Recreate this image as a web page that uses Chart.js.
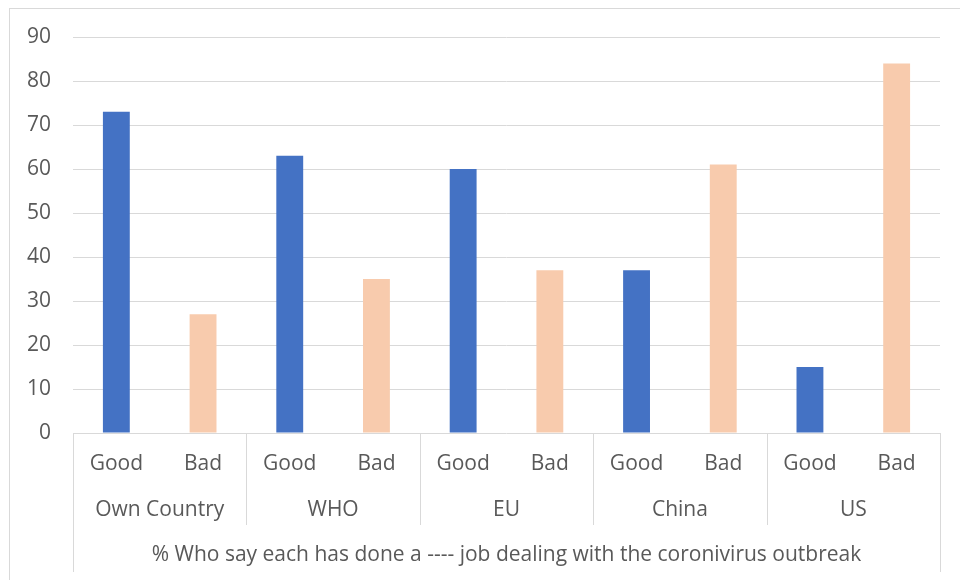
<!DOCTYPE html>
<html>
<head>
<meta charset="utf-8">
<script src="https://cdn.jsdelivr.net/npm/chart.js@4.4.1/dist/chart.umd.min.js"></script>
<style>
  html, body { margin: 0; padding: 0; background: #fff; }
  #wrap { position: relative; width: 960px; height: 580px; overflow: hidden; }
  #frame { position: absolute; left: 9px; top: 8px; width: 1000px; height: 620px; border: 1px solid #d9d9d9; box-sizing: border-box; }
  canvas { position: absolute; left: 0; top: 0; }
</style>
</head>
<body>
<div id="wrap">
  <div id="frame"></div>
  <canvas id="chart" width="960" height="580"></canvas>
</div>
<script>
const groups = ['Own Country', 'WHO', 'EU', 'China', 'US'];
const answers = ['Good', 'Bad'];
const values = [73, 27, 63, 35, 60, 37, 37, 61, 15, 84];
const yTicks = [0, 10, 20, 30, 40, 50, 60, 70, 80, 90];
const axisTitle = '% Who say each has done a ---- job dealing with the coronivirus outbreak';

const answerColors = { Good: '#4472c4', Bad: '#f8cbad' };
const textColor = '#595959';
const lineColor = '#d9d9d9';
const fontFamily = '"Open Sans", Lato, sans-serif';
const fontSize = 21;

// one label per bar: Good, Bad, Good, Bad ...
const labels = [];
groups.forEach(() => answers.forEach(a => labels.push(a)));

// group separators + group names + bottom title
const multiLevelAxis = {
  id: 'multiLevelAxis',
  afterDraw(chart) {
    const c = chart.ctx;
    const x = chart.scales.x;
    const area = chart.chartArea;
    const per = answers.length;
    const step = (area.right - area.left) / groups.length;
    c.save();
    c.strokeStyle = lineColor;
    c.lineWidth = 1;
    for (let k = 0; k <= groups.length; k++) {
      const px = Math.round(area.left + k * step) + 0.5;
      const end = (k === 0 || k === groups.length) ? 572 : 525;
      c.beginPath();
      c.moveTo(px, area.bottom);
      c.lineTo(px, end);
      c.stroke();
    }
    c.fillStyle = textColor;
    c.font = fontSize + 'px ' + fontFamily;
    c.textAlign = 'center';
    c.textBaseline = 'middle';
    groups.forEach((g, i) => {
      const a = x.getPixelForValue(i * per);
      const b = x.getPixelForValue(i * per + per - 1);
      c.fillText(g, (a + b) / 2, 510);
    });
    c.fillText(axisTitle, (area.left + area.right) / 2, 555);
    c.restore();
  }
};

new Chart(document.getElementById('chart'), {
  type: 'bar',
  data: {
    labels: labels,
    datasets: [{
      data: values,
      backgroundColor: labels.map(l => answerColors[l]),
      barPercentage: 0.31,
      categoryPercentage: 1
    }]
  },
  options: {
    responsive: false,
    animation: false,
    layout: { padding: { left: 9, right: 20, top: 37, bottom: 0 } },
    plugins: { legend: { display: false }, tooltip: { enabled: false } },
    scales: {
      x: {
        grid: { display: false },
        border: { display: false },
        ticks: { color: textColor, font: { family: fontFamily, size: fontSize }, padding: 10, maxRotation: 0, autoSkip: false },
        afterFit: s => { s.height = 147; }
      },
      y: {
        min: 0,
        max: 90,
        afterBuildTicks: s => { s.ticks = yTicks.map(v => ({ value: v })); },
        grid: { color: lineColor, lineWidth: 1, drawTicks: false },
        border: { display: false },
        ticks: { color: textColor, font: { family: fontFamily, size: fontSize }, padding: 22 },
        afterFit: s => { s.width = 64; }
      }
    }
  },
  plugins: [multiLevelAxis]
});
</script>
</body>
</html>
